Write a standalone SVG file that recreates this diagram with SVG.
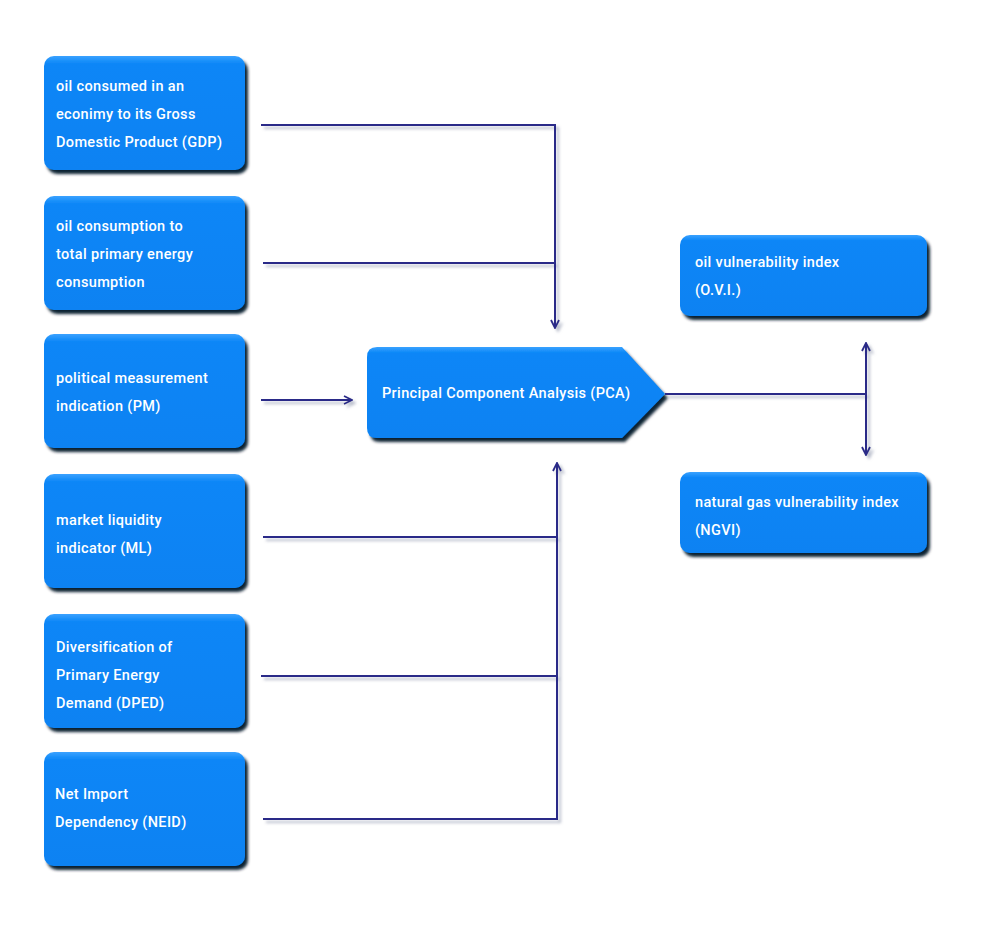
<svg xmlns="http://www.w3.org/2000/svg" width="993" height="926" viewBox="0 0 993 926">
<defs>
<filter id="bs" x="-10%" y="-10%" width="125%" height="130%">
<feDropShadow dx="3" dy="4" stdDeviation="1.8" flood-color="#061326" flood-opacity="0.95"/>
</filter>
<filter id="ls" x="-5%" y="-5%" width="115%" height="115%">
<feDropShadow dx="3" dy="3" stdDeviation="1.5" flood-color="#8890a8" flood-opacity="0.6"/>
</filter>
<linearGradient id="bg" x1="0" y1="0" x2="0" y2="1">
<stop offset="0" stop-color="#3aa2ff"/>
<stop offset="0.07" stop-color="#0a86f7"/>
<stop offset="1" stop-color="#0a82f2"/>
</linearGradient>
<marker id="ah" viewBox="0 0 10 10" refX="9" refY="5" markerWidth="10" markerHeight="10" markerUnits="userSpaceOnUse" orient="auto-start-reverse">
<path d="M1,1 L9,5 L1,9" fill="none" stroke="#2a2a88" stroke-width="1.8"/>
</marker>
<style>
.box{fill:url(#bg);filter:url(#bs);}
.t{font-family:Roboto,"Liberation Sans",sans-serif;font-size:14.5px;letter-spacing:0.35px;font-weight:500;fill:#ffffff;}
.c{fill:none;stroke:#2a2a88;stroke-width:2;}
</style>
</defs>
<g id="n1"><rect class="box" x="44" y="56" width="201" height="114" rx="10"/>
<text class="t"><tspan x="56" y="91">oil consumed in an</tspan><tspan x="56" y="119">econimy to its Gross</tspan><tspan x="56" y="147">Domestic Product (GDP)</tspan></text></g>
<g id="n2"><rect class="box" x="44" y="196" width="201" height="114" rx="10"/>
<text class="t"><tspan x="56" y="231">oil consumption to</tspan><tspan x="56" y="259">total primary energy</tspan><tspan x="56" y="287">consumption</tspan></text></g>
<g id="n3"><rect class="box" x="44" y="334" width="201" height="114" rx="10"/>
<text class="t"><tspan x="56" y="383">political measurement</tspan><tspan x="56" y="411">indication (PM)</tspan></text></g>
<g id="n4"><rect class="box" x="44" y="474" width="201" height="114" rx="10"/>
<text class="t"><tspan x="56" y="525">market liquidity</tspan><tspan x="56" y="553">indicator (ML)</tspan></text></g>
<g id="n5"><rect class="box" x="44" y="614" width="201" height="114" rx="10"/>
<text class="t"><tspan x="56" y="652">Diversification of</tspan><tspan x="56" y="680">Primary Energy</tspan><tspan x="56" y="708">Demand (DPED)</tspan></text></g>
<g id="n6"><rect class="box" x="44" y="752" width="201" height="114" rx="10"/>
<text class="t"><tspan x="55" y="799">Net Import</tspan><tspan x="55" y="827">Dependency (NEID)</tspan></text></g>
<g id="pca"><path class="box" d="M377,347 L622,347 L665,394 L622,438 L377,438 Q367,438 367,428 L367,357 Q367,347 377,347 Z"/>
<text class="t" x="382" y="398">Principal Component Analysis (PCA)</text></g>
<g id="ovi"><rect class="box" x="680" y="235" width="247" height="81" rx="10"/>
<text class="t"><tspan x="695" y="267">oil vulnerability index</tspan><tspan x="695" y="295">(O.V.I.)</tspan></text></g>
<g id="ngvi"><rect class="box" x="680" y="472" width="247" height="81" rx="10"/>
<text class="t"><tspan x="695" y="507">natural gas vulnerability index</tspan><tspan x="695" y="535">(NGVI)</tspan></text></g>
<g id="connectors" filter="url(#ls)">
<path class="c" d="M261,125 H555 V328" marker-end="url(#ah)"/>
<path class="c" d="M263,263 H555"/>
<path class="c" d="M261,400 H352" marker-end="url(#ah)"/>
<path class="c" d="M263,537 H557"/>
<path class="c" d="M261,676 H557"/>
<path class="c" d="M263,819 H557 V463" marker-end="url(#ah)"/>
<path class="c" d="M665,394 H866"/>
<path class="c" d="M866,343 V455" marker-start="url(#ah)" marker-end="url(#ah)"/>
</g>
</svg>
